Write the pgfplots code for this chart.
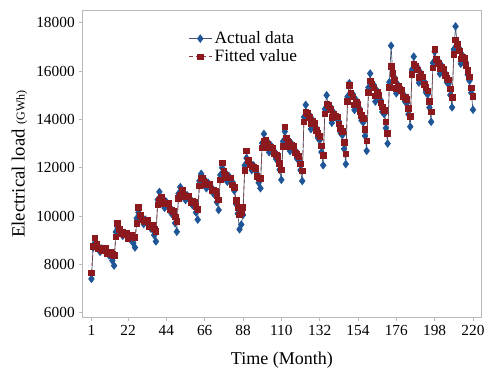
\documentclass[border=0pt]{standalone}
\usepackage{pgfplots}
\usepackage{pgfplotstable}
\pgfplotsset{compat=1.18}
\usepackage{fontspec}
\setmainfont{Liberation Serif}
\definecolor{actblue}{RGB}{30,85,150}
\definecolor{actline}{RGB}{70,85,110}
\definecolor{fitred}{RGB}{140,25,30}
\definecolor{framegray}{RGB}{185,185,185}
\pgfplotstableread{
month actual fitted
1 7400 7650
2 8700 8750
3 8900 9100
4 8730 8830
5 8750 8640
6 8520 8670
7 8660 8590
8 8600 8650
9 8580 8660
10 8540 8430
11 8380 8500
12 8350 8510
13 8160 8420
14 7950 8370
15 9340 9140
16 9500 9700
17 9360 9460
18 9370 9260
19 9180 9330
20 9300 9230
21 9230 9310
22 9200 9090
23 9060 9180
24 9040 9200
25 8880 9140
26 8700 9120
27 9910 9710
28 10150 10350
29 9930 10030
30 9960 9850
31 9670 9820
32 9850 9780
33 9740 9820
34 9690 9580
35 9490 9630
36 9450 9610
37 9210 9470
38 8950 9370
39 10670 10470
40 11000 10650
41 10700 10800
42 10740 10620
43 10340 10520
44 10590 10520
45 10440 10520
46 10370 10260
47 10100 10250
48 10040 10200
49 9710 9970
50 9350 9770
51 10930 10730
52 11200 10850
53 10960 11060
54 10980 10870
55 10660 10820
56 10860 10790
57 10740 10820
58 10690 10580
59 10450 10600
60 10420 10580
61 10150 10410
62 9850 10270
63 11450 11250
64 11750 11550
65 11480 11580
66 11510 11400
67 11150 11320
68 11380 11310
69 11240 11320
70 11180 11070
71 10930 11080
72 10880 11040
73 10580 10840
74 10250 10670
75 11700 11500
76 12000 12200
77 11750 11850
78 11790 11680
79 11420 11590
80 11650 11580
81 11500 11580
82 11400 11290
83 11050 11200
84 10500 10660
85 10100 10360
86 9450 10050
87 9650 10150
88 10050 10350
89 12100 11900
90 12400 12700
91 12200 12300
92 12220 12120
93 11900 12060
94 12100 12030
95 11900 11980
96 11750 11640
97 11380 11580
98 11150 11570
99 13020 12820
100 13400 13100
101 13060 13160
102 13090 12980
103 12640 12830
104 12930 12860
105 12750 12830
106 12680 12570
107 12360 12530
108 12300 12460
109 11920 12180
110 11500 11920
111 13090 12890
112 13500 13700
113 13130 13230
114 13170 13060
115 12690 12880
116 12990 12920
117 12800 12880
118 12720 12610
119 12380 12550
120 12310 12470
121 11900 12160
122 11450 11870
123 14100 13900
124 14600 14300
125 14150 14250
126 14200 14080
127 13600 13810
128 13980 13910
129 13750 13830
130 13650 13540
131 13230 13420
132 13150 13310
133 12650 12910
134 12100 12520
135 14430 14230
136 15000 14650
137 14490 14590
138 14540 14420
139 13860 14080
140 14290 14220
141 14100 14150
142 14030 14110
143 13920 13810
144 13440 13640
145 13350 13510
146 12780 13040
147 12150 12570
148 14940 14740
149 15500 15400
150 15000 15100
151 15050 14930
152 14390 14610
153 14800 14730
154 14550 14630
155 14440 14330
156 13960 14160
157 13880 14040
158 13320 13580
159 12700 13120
160 15320 15120
161 15900 15600
162 15380 15480
163 15430 15310
164 14740 14970
165 15180 15110
166 14910 14990
167 14800 14690
168 14310 14520
169 14220 14380
170 13640 13900
171 13000 13420
172 15540 15340
173 17050 16200
174 15800 15900
175 15730 15610
176 15080 15290
177 15430 15360
178 15220 15270
179 15130 15210
180 15050 14940
181 14740 14920
182 14670 14830
183 14210 14470
184 13700 14120
185 16060 15860
186 16600 16300
187 16110 16210
188 16170 16050
189 15520 15730
190 15930 15860
191 15680 15760
192 15570 15460
193 15120 15320
194 15030 15190
195 14490 14750
196 13900 14320
197 16340 16140
198 16800 16900
199 16390 16490
200 16430 16310
201 15890 16090
202 16230 16160
203 16020 16100
204 15930 15820
205 15540 15720
206 15470 15630
207 15010 15270
208 14500 14920
209 16900 16700
210 17850 17300
211 17000 17100
212 16950 16830
213 16300 16510
214 16650 16580
215 16450 16530
216 16350 16240
217 15850 16040
218 15600 15760
219 15100 15300
220 14400 14950
}\loaddata
\begin{document}
\begin{tikzpicture}
\begin{axis}[
  scale only axis,
  width=298.5pt, height=230pt,
  xmin=-4, xmax=224.6,
  ymin=5800, ymax=18500,
  xtick={1,22,44,66,88,110,132,154,176,198,220},
  ytick={6000,8000,10000,12000,14000,16000,18000},
  scaled y ticks=false,
  /pgf/number format/assume math mode=true,
  yticklabel style={/pgf/number format/1000 sep={}, font=\fontsize{11.5}{13}\selectfont},
  xticklabel style={font=\fontsize{11.5}{13}\selectfont},
  tick align=outside,
  tick style={framegray, thin},
  major tick length=2.5pt,
  axis line style={framegray, thin},
  xtick pos=bottom, ytick pos=left,
  xlabel={Time (Month)},
  xlabel style={font=\fontsize{13.5}{15}\selectfont, yshift=-5pt},
  ylabel={Electrical load\ {\fontsize{9}{10}\selectfont (GWh)}},
  ylabel style={font=\fontsize{14}{15}\selectfont, yshift=0pt},
  legend style={at={(0.255,0.95)}, anchor=north west, draw=none, fill=none,
    font=\fontsize{13}{14}\selectfont, row sep=-1pt},
  legend cell align=left,
]
\addplot[color=actline, line width=0.5pt, mark=diamond*, mark size=2.8pt,
  mark options={solid, draw=actblue, fill=actblue}] table[x=month, y=actual] {\loaddata};
\addlegendentry{Actual data}
\addplot[color=fitred!70!gray, densely dashed, line width=0.5pt, mark=square*, mark size=2.1pt,
  mark options={solid, draw=fitred, fill=fitred}] table[x=month, y=fitted] {\loaddata};
\addlegendentry{Fitted value}
\end{axis}
\path (current axis.south west) ++(-62pt,-44pt) (current axis.north east) ++(7.5pt,8pt);
\end{tikzpicture}
\end{document}
